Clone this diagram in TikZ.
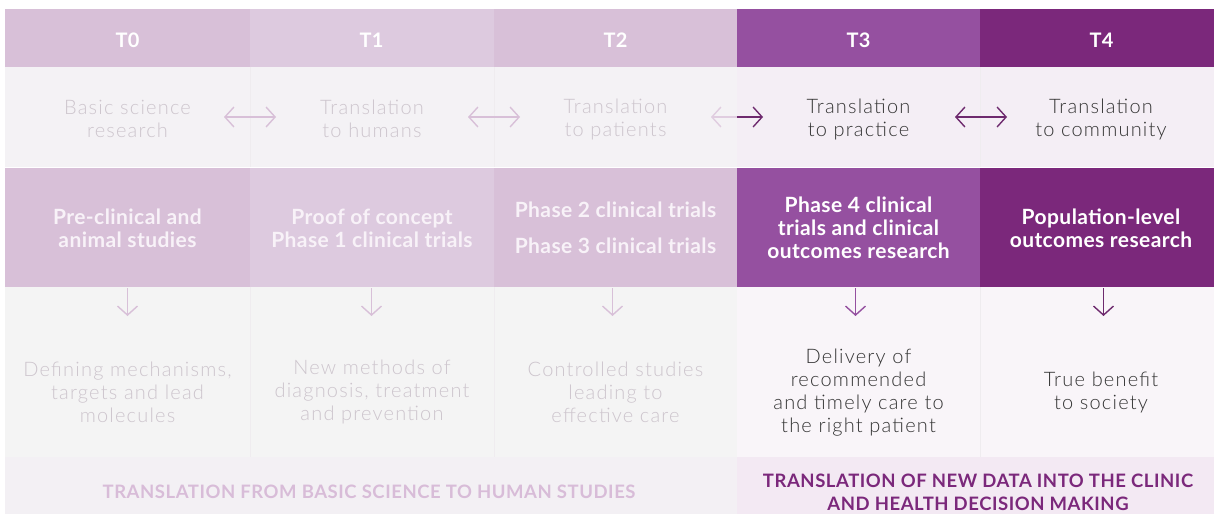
\documentclass[tikz,border=0pt]{standalone}
\usepackage{fontspec}
\setmainfont{Lato}
\newfontfamily\thinfont{Lato Light}[LetterSpace=6]
\newfontfamily\widebold{Lato}[LetterSpace=2]
\newfontfamily\capsbold{Lato}[LetterSpace=3]
\usetikzlibrary{arrows.meta}

% palette
\definecolor{pinkA}{HTML}{D8C0D8}
\definecolor{pinkB}{HTML}{DDCADF}
\definecolor{violet}{HTML}{9550A0}
\definecolor{plum}{HTML}{7B287B}
\definecolor{rowlight}{HTML}{F4F2F5}
\definecolor{rowlightR}{HTML}{F4EEF5}
\definecolor{rowgrey}{HTML}{F4F4F4}
\definecolor{rowgreyR}{HTML}{F9F5F9}
\definecolor{bandL}{HTML}{F3F0F4}
\definecolor{bandR}{HTML}{F3E9F3}
\definecolor{fadedtext}{HTML}{CDC5CD}
\definecolor{darktext}{HTML}{353535}
\definecolor{paletext}{HTML}{F8F2F8}
\definecolor{sepline}{HTML}{EFECEF}
\definecolor{bandtextL}{HTML}{D8BCD8}
\definecolor{arrowdark}{HTML}{6E2A6E}

\tikzset{
  cell/.style={inner sep=0pt, outer sep=0pt, draw=none, minimum width=#1},
  headcell/.style={cell=#1, minimum height=58pt},
  headtext/.style={inner sep=0pt, text=white,
    font=\widebold\fontsize{20}{22}\selectfont\bfseries},
  stagecell/.style={cell=#1, minimum height=100pt},
  phasecell/.style={cell=#1, minimum height=120pt, align=center,
    font=\widebold\fontsize{21}{23}\selectfont\bfseries},
  outcell/.style={cell=#1, minimum height=170pt},
  outtext/.style={align=center, inner sep=0pt,
    font=\thinfont\fontsize{20}{23}\selectfont},
  bandcell/.style={cell=#1, minimum height=57pt},
  bandtext/.style={align=center, inner sep=0pt,
    font=\capsbold\fontsize{18.5}{23}\selectfont\bfseries},
  twoway/.style={line width=1.4pt,
    arrows={Straight Barb[length=9pt,width=20pt]-Straight Barb[length=9pt,width=20pt]}},
  oneway/.style={line width=1.4pt, arrows={-Straight Barb[length=9pt,width=20pt]}},
  backway/.style={line width=1.4pt, arrows={Straight Barb[length=9pt,width=20pt]-}},
  down/.style={line width=1.4pt, arrows={-Straight Barb[length=9pt,width=20pt]}},
}

\begin{document}
\begin{tikzpicture}[x=1pt,y=-1pt]
\useasboundingbox (0,0) rectangle (1214,514);
\fill[white] (0,0) rectangle (1214,514);
\clip (0,0) rectangle (1214,514);

% header row: T0 ... T4
\node[headcell=245pt, fill=pinkA]  (h0) at (127.5,38) {};
\node[headcell=244pt, fill=pinkB]  (h1) at (372,38)   {};
\node[headcell=243pt, fill=pinkA]  (h2) at (615.5,38) {};
\node[headcell=243pt, fill=violet] (h3) at (858.5,38) {};
\node[headcell=242pt, fill=plum]   (h4) at (1101,38)  {};
\node[headtext] (n0) at (127.5,40) {T0};
\node[headtext] (n1) at (371.5,40) {T1};
\node[headtext] (n2) at (615.5,40) {T2};
\node[headtext] (n3) at (858.5,40) {T3};
\node[headtext] (n4) at (1101.5,40) {T4};

% stage row
\node[stagecell=245pt, fill=rowlight]  (s0) at (127.5,117) {};
\node[stagecell=244pt, fill=rowlight]  (s1) at (372,117)   {};
\node[stagecell=243pt, fill=rowlight]  (s2) at (615.5,117) {};
\node[stagecell=243pt, fill=rowlightR] (s3) at (858.5,117) {};
\node[stagecell=242pt, fill=rowlightR] (s4) at (1101,117)  {};
\draw[sepline, line width=0.6pt] (s0.north east) -- (s0.south east);
\draw[sepline, line width=0.6pt] (s1.north east) -- (s1.south east);
\draw[sepline, line width=0.6pt] (s3.north east) -- (s3.south east);

\node[outtext, text=fadedtext] (t0) at (127.5,119) {Basic science\\research};
\node[outtext, text=fadedtext] (t1) at (372,119)   {Translation\\to humans};
\node[outtext, text=fadedtext] (t2) at (615.5,119) {Translation\\to patients};
\node[outtext, text=darktext]  (t3) at (858.5,119) {Translation\\to practice};
\node[outtext, text=darktext]  (t4) at (1101,119)  {Translation\\to community};

% two-way arrows between the stages
\coordinate (a01l) at (224,117); \coordinate (a01r) at (276,117);
\coordinate (a12l) at (468,117); \coordinate (a12r) at (520,117);
\coordinate (a23l) at (711,117); \coordinate (a23m) at (737,117); \coordinate (a23r) at (763,117);
\coordinate (a34l) at (955,117); \coordinate (a34r) at (1007,117);
\draw[twoway, pinkA] (a01l) -- (a01r);
\draw[twoway, pinkA] (a12l) -- (a12r);
\draw[backway, pinkA!80] (a23l) -- (a23m);
\draw[oneway, arrowdark] (a23m) -- (a23r);
\draw[twoway, arrowdark] (a34l) -- (a34r);

% research phase row
\node[phasecell=245pt, fill=pinkA,  text=paletext] (p0) at (127.5,228) {Pre-clinical and\\animal studies};
\node[phasecell=244pt, fill=pinkB,  text=paletext] (p1) at (372,228)   {Proof of concept\\Phase 1 clinical trials};
\node[phasecell=243pt, fill=pinkA,  text=paletext] (p2) at (615.5,228) {Phase 2 clinical trials\\[13pt]Phase 3 clinical trials};
\node[phasecell=243pt, fill=violet, text=white]    (p3) at (858.5,228) {Phase 4 clinical\\trials and clinical\\outcomes research};
\node[phasecell=242pt, fill=plum,   text=white]    (p4) at (1101,228)  {Population-level\\outcomes research};

% outcome row
\node[outcell=245pt, fill=rowgrey]  (o0) at (127.5,372) {};
\node[outcell=244pt, fill=rowgrey]  (o1) at (372,372)   {};
\node[outcell=243pt, fill=rowgrey]  (o2) at (615.5,372) {};
\node[outcell=243pt, fill=rowgreyR] (o3) at (858.5,372) {};
\node[outcell=242pt, fill=rowgreyR] (o4) at (1101,372)  {};
\draw[sepline, line width=0.6pt] (o0.north east) -- (o0.south east);
\draw[sepline, line width=0.6pt] (o1.north east) -- (o1.south east);
\draw[sepline, line width=0.6pt] (o3.north east) -- (o3.south east);

\node[outtext, text=fadedtext] (d0) at (127.5,392) {Defining mechanisms,\\targets and lead\\molecules};
\node[outtext, text=fadedtext] (d1) at (372,392)   {New methods of\\diagnosis, treatment\\and prevention};
\node[outtext, text=fadedtext] (d2) at (615.5,392) {Controlled studies\\leading to\\effective care};
\node[outtext, text=darktext]  (d3) at (858.5,392.5) {Delivery of\\recommended\\and timely care to\\the right patient};
\node[outtext, text=darktext]  (d4) at (1101,392.5)  {True benefit\\to society};

% down arrows from each phase
\coordinate (e0) at (127.5,316);
\coordinate (e1) at (371.5,316);
\coordinate (e2) at (612.5,316);
\coordinate (e3) at (855.5,316);
\coordinate (e4) at (1103.5,316);
\draw[down, pinkA]     (p0.south -| e0) -- (e0);
\draw[down, pinkA]     (p1.south -| e1) -- (e1);
\draw[down, pinkA]     (p2.south -| e2) -- (e2);
\draw[down, violet]    (p3.south -| e3) -- (e3);
\draw[down, arrowdark] (p4.south -| e4) -- (e4);

% bottom bands
\node[bandcell=732pt, fill=bandL] (bl) at (371,485.5) {};
\node[bandcell=485pt, fill=bandR] (br) at (979.5,485.5) {};
\node[bandtext, text=bandtextL] (tl) at (369,492) {TRANSLATION FROM BASIC SCIENCE TO HUMAN STUDIES};
\node[bandtext, text=plum]      (tr) at (978,492) {TRANSLATION OF NEW DATA INTO THE CLINIC\\AND HEALTH DECISION MAKING};
\end{tikzpicture}
\end{document}
